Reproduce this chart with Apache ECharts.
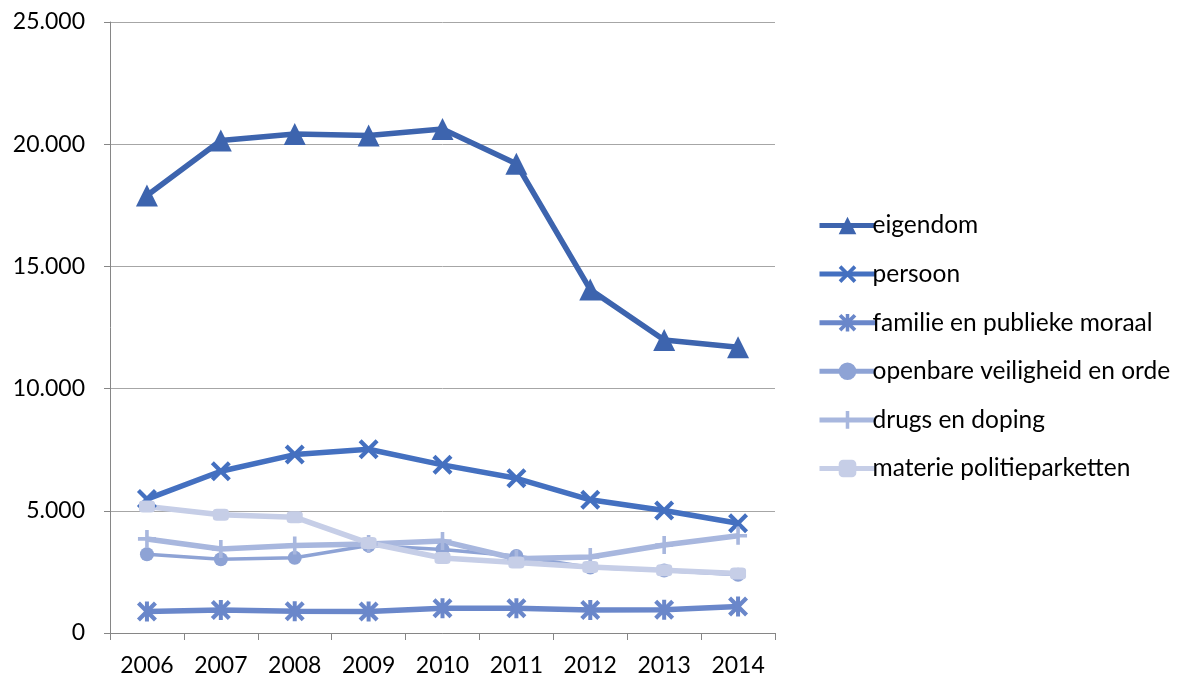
<!DOCTYPE html>
<html><head><meta charset="utf-8">
<script src="https://cdn.jsdelivr.net/npm/echarts@6/dist/echarts.min.js"></script>
<style>html,body{margin:0;padding:0;background:#fff}#c{width:1184px;height:681px}</style>
</head><body><div id="c"></div>
<script>
const years = ['2006','2007','2008','2009','2010','2011','2012','2013','2014'];
const eigendom = [17900, 20150, 20420, 20360, 20620, 19200, 14050, 11990, 11690];
const persoon = [5480, 6620, 7300, 7520, 6880, 6330, 5450, 5010, 4490];
const familie = [880, 940, 890, 880, 1010, 1010, 940, 950, 1080];
const openbare = [3220, 3020, 3080, 3580, 3420, 3150, 2680, 2560, 2380];
const drugs = [3850, 3440, 3580, 3640, 3760, 3040, 3110, 3600, 3980];
const materie = [5180, 4840, 4740, 3680, 3070, 2880, 2700, 2570, 2430];
const yTicks = [0, 5000, 10000, 15000, 20000, 25000];

const X = 'path://M3,0 L10,7 L17,0 L20,3 L13,10 L20,17 L17,20 L10,13 L3,20 L0,17 L7,10 L0,3 Z';
const STAR = 'path://M3,0 L8,5 L8,0 L12,0 L12,5 L17,0 L20,3 L13,10 L20,17 L17,20 L12,15 L12,20 L8,20 L8,15 L3,20 L0,17 L7,10 L0,3 Z';
const PLUS = 'path://M8,0 H12 V8 H20 V12 H12 V20 H8 V12 H0 V8 H8 Z';
const FONT = 'Lato';

function mk(name, data, color, symbol, size, width) {
  return { name, type: 'line', data, symbol, symbolSize: size, showAllSymbol: true,
    lineStyle: { color, width }, itemStyle: { color }, z: 2 };
}
const series = [
  mk('eigendom', eigendom, '#3D64AE', 'triangle', 22, 5.5),
  mk('persoon', persoon, '#4470C0', X, 20, 5.5),
  mk('familie en publieke moraal', familie, '#6A87CA', STAR, 20, 5.5),
  mk('openbare veiligheid en orde', openbare, '#8EA3D5', 'circle', 14, 3.5),
  mk('drugs en doping', drugs, '#A8B7DE', PLUS, 18, 5.5),
  mk('materie politieparketten', materie, '#C6CEE7', 'roundRect', [16, 12], 5.5)
];
const chart = echarts.init(document.getElementById('c'));
chart.setOption({
  animation: false,
  textStyle: { fontFamily: FONT },
  grid: { left: 110, right: 409, top: 22, bottom: 48, containLabel: false },
  legend: {
    orient: 'vertical', left: 812, top: 208, itemWidth: 56, itemHeight: 22, itemGap: 23.6,
    lineStyle: { width: 5 },
    textStyle: { fontFamily: FONT, fontSize: 24.5, lineHeight: 22, color: '#000', padding: [0,0,0,-8] },
    data: series.map(s => s.name)
  },
  xAxis: {
    type: 'category', data: years, boundaryGap: true,
    axisLine: { lineStyle: { color: '#868686', width: 1 } },
    axisTick: { show: true, length: 7, lineStyle: { color: '#868686' } },
    axisLabel: { fontFamily: FONT, fontSize: 23, color: '#000', margin: 21 }
  },
  yAxis: {
    type: 'value', min: 0, max: 25000, interval: 5000,
    axisLine: { show: true, lineStyle: { color: '#868686' } },
    axisTick: { show: true, length: 6, lineStyle: { color: '#868686' } },
    splitLine: { lineStyle: { color: '#A6A6A6', width: 1 } },
    axisLabel: { fontFamily: FONT, fontSize: 23, color: '#000', margin: 25,
      formatter: v => v === 0 ? '0' : String(v).replace(/\B(?=(\d{3})+(?!\d))/g, '.') }
  },
  series
});
</script></body></html>
